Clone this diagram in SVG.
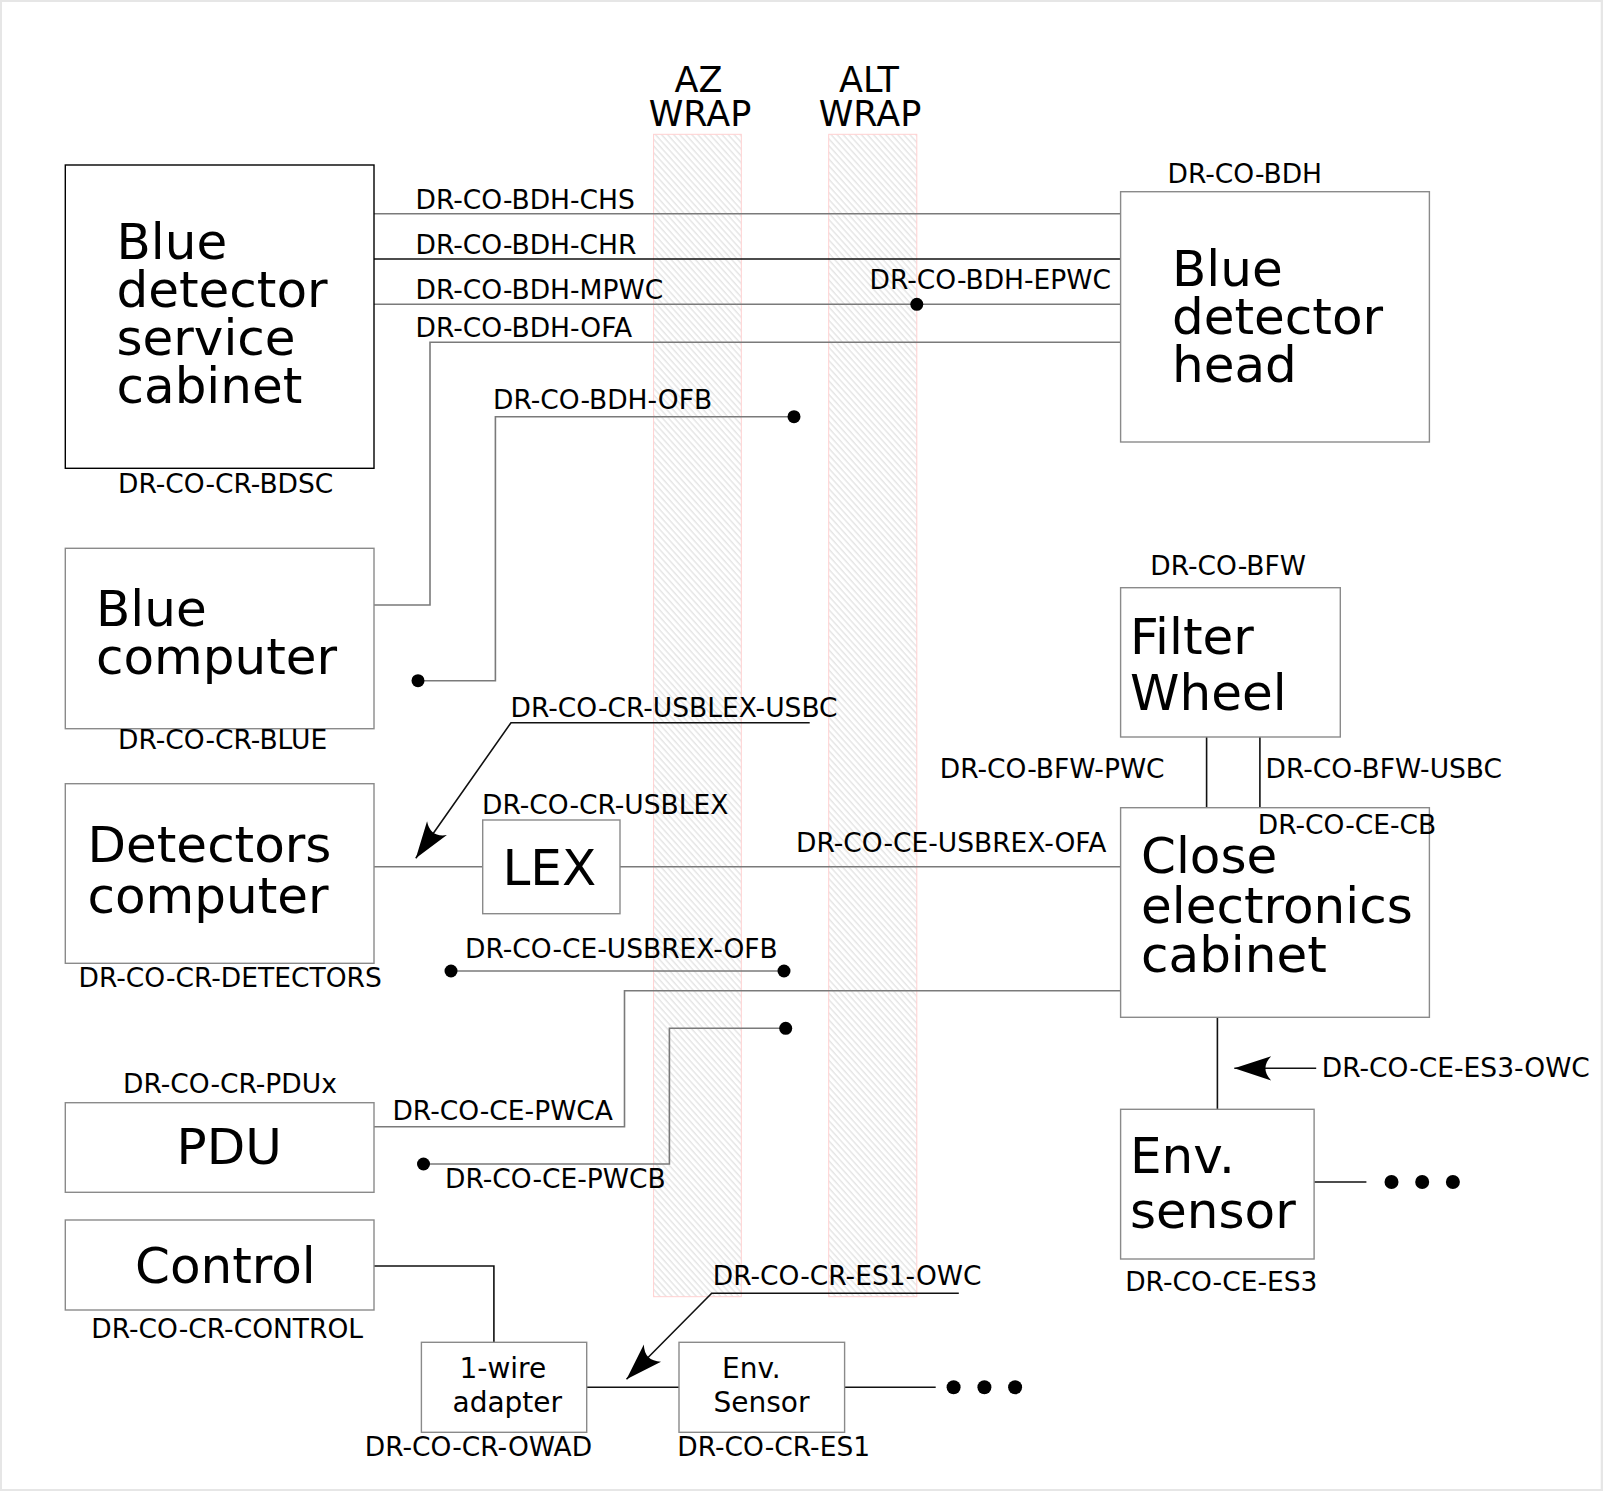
<svg xmlns="http://www.w3.org/2000/svg" width="1603" height="1491" viewBox="0 0 1603 1491">
<style>
text{font-family:"DejaVu Sans","Liberation Sans",sans-serif;fill:#000}
.big{font-size:50px}
.lbl{font-size:26.5px}
.mid{font-size:28px}
.wrap{font-size:35px;text-anchor:middle}
.box{fill:#fff;stroke:#8a8a8a;stroke-width:1.4}
.boxk{fill:#fff;stroke:#000;stroke-width:1.4}
.ln{fill:none;stroke:#7a7a7a;stroke-width:1.6}
.lk{fill:none;stroke:#111;stroke-width:1.6}
.dot{fill:#000}
.band{fill:url(#hatch);stroke:#ffd0d0;stroke-width:1}
</style>
<defs>
<pattern id="hatch" patternUnits="userSpaceOnUse" width="4.5" height="10" patternTransform="rotate(-42)">
<line x1="1" y1="0" x2="1" y2="10" stroke="#c4c4c4" stroke-width="0.7"/>
</pattern>
<marker id="arr" markerUnits="userSpaceOnUse" orient="auto" markerWidth="40" markerHeight="30" viewBox="-36 -12 38 24" refX="0" refY="0">
<path d="M0,0 L-35,-11.5 Q-24,0 -35,11.5 Z" fill="#000"/>
</marker>
</defs>
<rect x="0" y="0" width="1603" height="1491" fill="#e6e6e6"/>
<rect x="2" y="2" width="1598.7" height="1487" fill="#fff"/>

<g id="wraps">
<rect class="band" x="653.6" y="134.3" width="87.7" height="1162.4"/>
<rect class="band" x="828.7" y="134.3" width="88.1" height="1162.4"/>
<text class="wrap" x="698.5" y="91.7">AZ</text>
<text class="wrap" x="700" y="125.7">WRAP</text>
<text class="wrap" x="869" y="91.7">ALT</text>
<text class="wrap" x="870" y="125.7">WRAP</text>
</g>

<g id="connectors">
<path class="ln" d="M374,213.7 H1120.6"/>
<path class="lk" d="M374,259 H1120.6"/>
<path class="ln" d="M374,304.3 H1120.6"/>
<circle class="dot" cx="916.8" cy="304.3" r="6.5"/>
<path class="ln" d="M1120.6,342.3 H430 V605 H374"/>
<path class="ln" d="M794,416.7 H495.4 V680.7 H418"/>
<circle class="dot" cx="794" cy="416.7" r="6.5"/>
<circle class="dot" cx="418" cy="680.7" r="6.5"/>
<path class="lk" d="M809.7,722.7 H511 L415.8,858.3" marker-end="url(#arr)"/>
<path class="ln" d="M374,866.7 H482.7"/>
<path class="ln" d="M620,866.7 H1120.6"/>
<path class="ln" d="M451,971 H784"/>
<circle class="dot" cx="451" cy="971" r="6.5"/>
<circle class="dot" cx="784" cy="971" r="6.5"/>
<path class="ln" d="M1120.6,990.7 H624.5 V1126.7 H374"/>
<path class="ln" d="M785.7,1028.3 H669.4 V1164 H423.5"/>
<circle class="dot" cx="785.7" cy="1028.3" r="6.5"/>
<circle class="dot" cx="423.5" cy="1164" r="6.5"/>
<path class="lk" d="M1206.6,737 V807.7"/>
<path class="lk" d="M1259.9,737 V807.7"/>
<path class="lk" d="M1217.4,1017.3 V1109.3"/>
<path class="lk" d="M1316.2,1068.3 H1234.3" marker-end="url(#arr)"/>
<path class="lk" d="M1314.1,1182 H1366.4"/>
<circle class="dot" cx="1391.5" cy="1182" r="7"/>
<circle class="dot" cx="1422.2" cy="1182" r="7"/>
<circle class="dot" cx="1452.9" cy="1182" r="7"/>
<path class="lk" d="M374,1266 H493.9 V1342.3"/>
<path class="lk" d="M586.7,1387.3 H679"/>
<path class="lk" d="M958.8,1293.3 H711.7 L626.5,1379.3" marker-end="url(#arr)"/>
<path class="lk" d="M844.6,1387.3 H935.7"/>
<circle class="dot" cx="953.6" cy="1387.3" r="7"/>
<circle class="dot" cx="984.4" cy="1387.3" r="7"/>
<circle class="dot" cx="1015.1" cy="1387.3" r="7"/>
</g>

<g id="connector-labels">
<text class="lbl" x="415.5" y="209.3">DR-CO-BDH-CHS</text>
<text class="lbl" x="415.5" y="254">DR-CO-BDH-CHR</text>
<text class="lbl" x="415.5" y="299">DR-CO-BDH-MPWC</text>
<text class="lbl" x="415.5" y="337.3">DR-CO-BDH-OFA</text>
<text class="lbl" x="493" y="409">DR-CO-BDH-OFB</text>
<text class="lbl" x="869.5" y="289.3">DR-CO-BDH-EPWC</text>
<text class="lbl" x="510.5" y="717.3">DR-CO-CR-USBLEX-USBC</text>
<text class="lbl" x="796" y="851.7">DR-CO-CE-USBREX-OFA</text>
<text class="lbl" x="465" y="958.3">DR-CO-CE-USBREX-OFB</text>
<text class="lbl" x="939.8" y="777.7">DR-CO-BFW-PWC</text>
<text class="lbl" x="1265.5" y="777.7">DR-CO-BFW-USBC</text>
<text class="lbl" x="392.4" y="1120">DR-CO-CE-PWCA</text>
<text class="lbl" x="445" y="1188.3">DR-CO-CE-PWCB</text>
<text class="lbl" x="1321.8" y="1076.7">DR-CO-CE-ES3-OWC</text>
<text class="lbl" x="712.8" y="1285">DR-CO-CR-ES1-OWC</text>
</g>

<g id="node-bdsc">
<rect class="boxk" x="65.3" y="165" width="308.7" height="303.3"/>
<text class="big" x="116.5" y="259">Blue</text>
<text class="big" x="116.5" y="307">detector</text>
<text class="big" x="116.5" y="355">service</text>
<text class="big" x="116.5" y="403">cabinet</text>
<text class="lbl" x="118" y="493">DR-CO-CR-BDSC</text>
</g>

<g id="node-bdh">
<rect class="box" x="1120.6" y="191.7" width="308.8" height="250.3"/>
<text class="big" x="1172" y="286">Blue</text>
<text class="big" x="1172" y="334">detector</text>
<text class="big" x="1172" y="382">head</text>
<text class="lbl" x="1167.5" y="183.3">DR-CO-BDH</text>
</g>

<g id="node-blue">
<rect class="box" x="65.3" y="548.3" width="308.7" height="180.4"/>
<text class="big" x="96" y="626">Blue</text>
<text class="big" x="96" y="674">computer</text>
<text class="lbl" x="118" y="749.3">DR-CO-CR-BLUE</text>
</g>

<g id="node-detectors">
<rect class="box" x="65.3" y="783.7" width="308.7" height="179.6"/>
<text class="big" x="87.5" y="861.7">Detectors</text>
<text class="big" x="87.5" y="913.3">computer</text>
<text class="lbl" x="78.5" y="986.7">DR-CO-CR-DETECTORS</text>
</g>

<g id="node-lex">
<rect class="box" x="482.7" y="820" width="137.3" height="93.7"/>
<text class="big" x="502.5" y="885">LEX</text>
<text class="lbl" x="482" y="814.3">DR-CO-CR-USBLEX</text>
</g>

<g id="node-bfw">
<rect class="box" x="1120.6" y="587.7" width="219.7" height="149.3"/>
<text class="big" x="1130" y="654">Filter</text>
<text class="big" x="1130" y="710">Wheel</text>
<text class="lbl" x="1150.3" y="575">DR-CO-BFW</text>
</g>

<g id="node-ce">
<rect class="box" x="1120.6" y="807.7" width="308.8" height="209.6"/>
<text class="big" x="1141" y="872.7">Close</text>
<text class="big" x="1141" y="922.7">electronics</text>
<text class="big" x="1141" y="971.7">cabinet</text>
<text class="lbl" x="1257.8" y="834">DR-CO-CE-CB</text>
</g>

<g id="node-es3">
<rect class="box" x="1120.6" y="1109.3" width="193.5" height="149.7"/>
<text class="big" x="1130" y="1172.7">Env.</text>
<text class="big" x="1130" y="1228.3">sensor</text>
<text class="lbl" x="1125.2" y="1291">DR-CO-CE-ES3</text>
</g>

<g id="node-pdu">
<rect class="box" x="65.3" y="1102.7" width="308.7" height="89.6"/>
<text class="big" x="176.5" y="1164">PDU</text>
<text class="lbl" x="123" y="1092.7">DR-CO-CR-PDUx</text>
</g>

<g id="node-control">
<rect class="box" x="65.3" y="1220" width="308.7" height="90"/>
<text class="big" x="135" y="1282.7">Control</text>
<text class="lbl" x="91.3" y="1337.7">DR-CO-CR-CONTROL</text>
</g>

<g id="node-owad">
<rect class="box" x="421.4" y="1342.3" width="165.3" height="90"/>
<text class="mid" x="459.5" y="1378.3">1-wire</text>
<text class="mid" x="452.5" y="1411.7">adapter</text>
<text class="lbl" x="364.8" y="1456">DR-CO-CR-OWAD</text>
</g>

<g id="node-es1">
<rect class="box" x="679" y="1342.3" width="165.6" height="90"/>
<text class="mid" x="722" y="1378.3">Env.</text>
<text class="mid" x="713.5" y="1411.7">Sensor</text>
<text class="lbl" x="677.3" y="1456">DR-CO-CR-ES1</text>
</g>
</svg>
